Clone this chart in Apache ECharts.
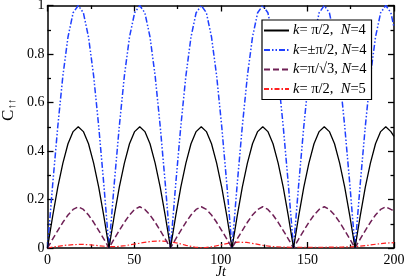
<!DOCTYPE html>
<html><head><meta charset="utf-8">
<script src="https://cdn.jsdelivr.net/npm/echarts@6/dist/echarts.min.js"></script>
<style>html,body{margin:0;padding:0;background:#fff}#c{width:407px;height:280px}</style>
</head><body><div id="c"></div>
<script>
var tMain = [0,2.96,5.92,8.88,11.83,14.79,17.75,20.71,23.67,26.63,29.58,32.54,
35.5,38.46,41.42,44.38,47.33,50.29,53.25,56.21,59.17,62.13,65.08,68.04,
71,73.96,76.92,79.88,82.83,85.79,88.75,91.71,94.67,97.63,100.58,103.54,
106.5,109.46,112.42,115.38,118.33,121.29,124.25,127.21,130.17,133.13,136.08,139.04,
142,144.96,147.92,150.88,153.83,156.79,159.75,162.71,165.67,168.63,171.58,174.54,
177.5,180.46,183.42,186.38,189.33,192.29,195.25,198.21,200];
var blackN4 = [0,0.13,0.25,0.35,0.43,0.48,0.5,0.48,0.43,0.35,0.25,0.13,
0,0.13,0.25,0.35,0.43,0.48,0.5,0.48,0.43,0.35,0.25,0.13,
0,0.13,0.25,0.35,0.43,0.48,0.5,0.48,0.43,0.35,0.25,0.13,
0,0.13,0.25,0.35,0.43,0.48,0.5,0.48,0.43,0.35,0.25,0.13,
0,0.13,0.25,0.35,0.43,0.48,0.5,0.48,0.43,0.35,0.25,0.13,
0,0.13,0.25,0.35,0.43,0.48,0.5,0.48,0.46];
var blueN4 = [0,0.26,0.5,0.71,0.87,0.97,1,0.97,0.87,0.71,0.5,0.26,
0,0.26,0.5,0.71,0.87,0.97,1,0.97,0.87,0.71,0.5,0.26,
0,0.26,0.5,0.71,0.87,0.97,1,0.97,0.87,0.71,0.5,0.26,
0,0.26,0.5,0.71,0.87,0.97,1,0.97,0.87,0.71,0.5,0.26,
0,0.26,0.5,0.71,0.87,0.97,1,0.97,0.87,0.71,0.5,0.26,
0,0.26,0.5,0.71,0.87,0.97,1,0.97,0.91];
var maroonN4 = [0,0.037,0.072,0.106,0.136,0.159,0.17,0.159,0.136,0.106,0.072,0.037,
0,0.037,0.072,0.106,0.136,0.159,0.17,0.159,0.136,0.106,0.072,0.037,
0,0.037,0.072,0.106,0.136,0.159,0.17,0.159,0.136,0.106,0.072,0.037,
0,0.037,0.072,0.106,0.136,0.159,0.17,0.159,0.136,0.106,0.072,0.037,
0,0.037,0.072,0.106,0.136,0.159,0.17,0.159,0.136,0.106,0.072,0.037,
0,0.037,0.072,0.106,0.136,0.159,0.17,0.159,0.153];
var tRed = [0,5,10,15,20,25,30,35,40,45,50,55,60,65,70,75,80,85,90,95,100,105,110,115,120,125,130,135,140,145,150,155,160,165,170,175,180,185,190,195,200];
var redN5 = [0,0.006,0.011,0.014,0.015,0.013,0.009,0.006,0.006,0.01,0.016,0.022,0.027,0.029,0.027,0.02,0.011,0.004,0.001,0.005,0.013,0.02,0.024,0.023,0.017,0.01,0.006,0.004,0.003,0.003,0.003,0.003,0.003,0.004,0.004,0.005,0.007,0.011,0.016,0.02,0.022];
var legendLabels = ['k= π/2,  N=4','k=±π/2, N=4','k=π/√3, N=4','k= π/2,  N=5'];
var xTicks = {min:0, max:200, interval:50};
var yTicks = {min:0, max:1, interval:0.2};

function pairs(xs, ys){ return xs.map(function(x,i){ return [x, ys[i]]; }); }
var FONT = 'Liberation Serif';
function axisBase(extra){
  var a = {
    type:'value',
    axisLine:{show:true, onZero:false, lineStyle:{color:'#000', width:1.5}},
    axisTick:{show:true, inside:true, length:6, lineStyle:{color:'#000', width:1.3}},
    minorTick:{show:true, splitNumber:2, length:3.5, lineStyle:{color:'#000', width:1.3}},
    splitLine:{show:false},
    axisLabel:{color:'#000', fontFamily:FONT, fontSize:14}
  };
  for (var k in extra) a[k] = extra[k];
  return a;
}
var chart = echarts.init(document.getElementById('c'), null, {renderer:'canvas'});
chart.setOption({
  animation:false,
  backgroundColor:'#fff',
  grid:{left:47.5, right:13, top:5.5, bottom:32, outerBoundsMode:'none', containLabel:false},
  xAxis:[
    axisBase({position:'bottom', min:xTicks.min, max:xTicks.max, interval:xTicks.interval,
      axisLabel:{color:'#000', fontFamily:FONT, fontSize:14, margin:5},
      name:'Jt', nameLocation:'middle', nameGap:17, nameMoveOverlap:false,
      nameTextStyle:{fontFamily:FONT, fontStyle:'italic', fontSize:14, color:'#000'}}),
    axisBase({position:'top', min:xTicks.min, max:xTicks.max, interval:xTicks.interval,
      axisLabel:{show:false}})
  ],
  yAxis:[
    axisBase({position:'left', min:yTicks.min, max:yTicks.max, interval:yTicks.interval,
      axisLabel:{color:'#000', fontFamily:FONT, fontSize:14, margin:3},
      name:'{c|C}{s|↑↑}', nameLocation:'middle', nameGap:30, nameRotate:90, nameMoveOverlap:false,
      nameTextStyle:{color:'#000', fontFamily:FONT, padding:[0,0,0,34], rich:{
        c:{fontFamily:FONT, fontSize:17, color:'#000'},
        s:{fontFamily:FONT, fontSize:11, color:'#000', padding:[7,0,0,0]}
      }}}),
    axisBase({position:'right', min:yTicks.min, max:yTicks.max, interval:yTicks.interval,
      axisLabel:{show:false}})
  ],
  legend:{
    orient:'vertical', left:262, top:20,
    backgroundColor:'#fff', borderColor:'#000', borderWidth:1.2, borderRadius:0,
    padding:[3,5,3,1], itemWidth:25, itemHeight:10, itemGap:4.5,
    icon:'inherit',
    itemStyle:{opacity:0},
    data:legendLabels,
    formatter:function(name){ return name.replace(/^k/, '{i|k}').replace(/N=/, '{i|N}='); },
    textStyle:{fontFamily:FONT, fontSize:14.5, color:'#000', lineHeight:14, padding:[0,0,0,-1],
      rich:{i:{fontFamily:FONT, fontStyle:'italic', fontSize:14.5, color:'#000'}}}
  },
  series:[
    {name:legendLabels[3], type:'line', symbol:'none', data:pairs(tRed, redN5),
      lineStyle:{color:'#ff2020', width:1.2, type:[5,2,1.5,2]}, itemStyle:{color:'#ff2020'}},
    {name:legendLabels[2], type:'line', symbol:'none', data:pairs(tMain, maroonN4),
      lineStyle:{color:'#6e1f55', width:1.5, type:[6,3]}, itemStyle:{color:'#6e1f55'}},
    {name:legendLabels[1], type:'line', symbol:'none', data:pairs(tMain, blueN4),
      lineStyle:{color:'#1f3fff', width:1.5, type:[6,2,1.5,2,1.5,2]}, itemStyle:{color:'#1f3fff'}},
    {name:legendLabels[0], type:'line', symbol:'none', data:pairs(tMain, blackN4),
      lineStyle:{color:'#000', width:1.3}, itemStyle:{color:'#000'}}
  ]
});
</script></body></html>
